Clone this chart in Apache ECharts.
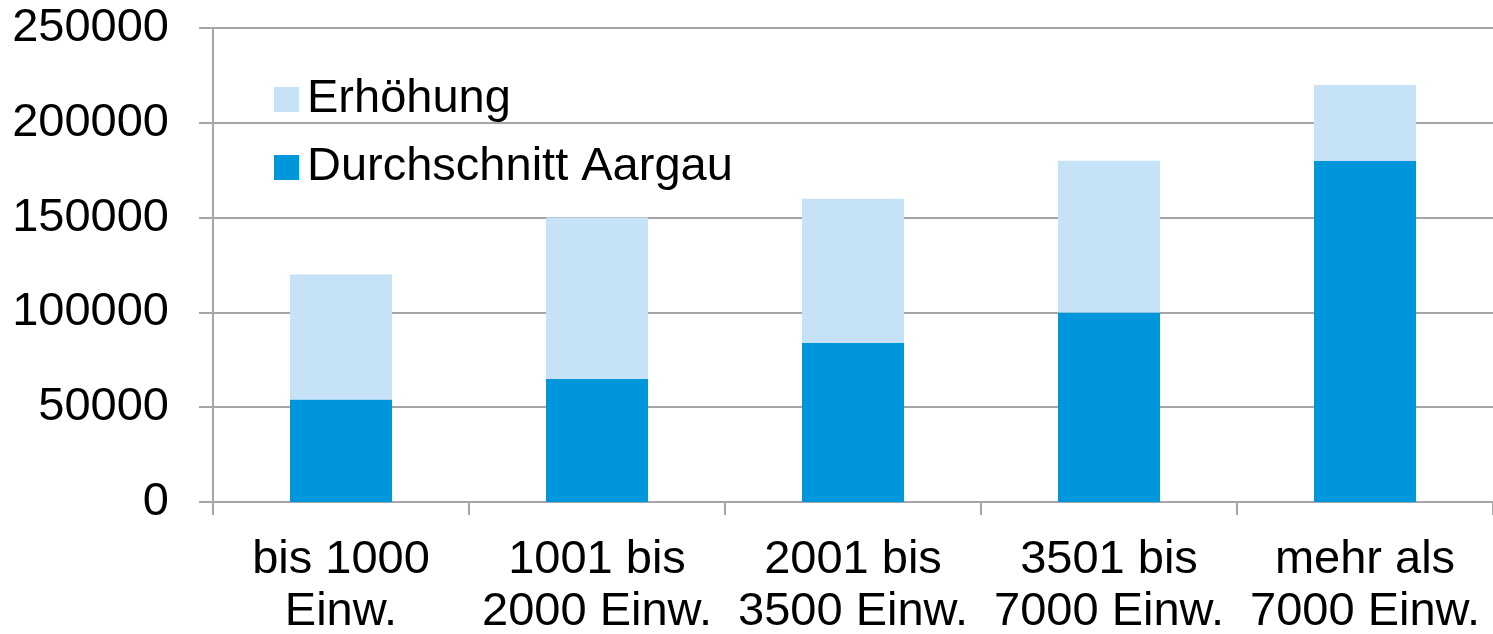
<!DOCTYPE html>
<html>
<head>
<meta charset="utf-8">
<script src="https://cdn.jsdelivr.net/npm/echarts@6/dist/echarts.min.js"></script>
<style>
	html, body { margin: 0; padding: 0; background: #fff; }
	#main { width: 1493px; height: 634px; }
</style>
</head>
<body>
<div id="main"></div>
<script>
var categories = ['bis 1000\nEinw.', '1001 bis\n2000 Einw.', '2001 bis\n3500 Einw.', '3501 bis\n7000 Einw.', 'mehr als\n7000 Einw.'];
var durchschnitt = [54000, 65000, 84000, 100000, 180000];
var erhoehung = [66000, 85000, 76000, 80000, 40000];
var yTicks = [0, 50000, 100000, 150000, 200000, 250000];

function display() {
	var myChart = echarts.init(document.getElementById('main'));
	var font = 'Liberation Sans, Arial, sans-serif';
	var gray = '#a6a6a6';

	var option = {
		animation: false,
		textStyle: { fontFamily: font },
		grid: { left: 213, right: 0, top: 28, bottom: 132, containLabel: false, outerBoundsMode: 'none' },
		legend: {
			orient: 'vertical',
			left: 269,
			top: 71,
			itemWidth: 25,
			itemHeight: 25,
			itemGap: 21,
			icon: 'rect',
			data: ['Erhöhung', 'Durchschnitt Aargau'],
			textStyle: { fontSize: 47, lineHeight: 47, color: '#000', fontFamily: font, padding: [0, 0, 0, 3] }
		},
		xAxis: {
			type: 'category',
			data: categories,
			axisLine: { lineStyle: { color: gray, width: 2 } },
			axisTick: { show: true, length: 13, lineStyle: { color: gray, width: 2 } },
			axisLabel: { fontSize: 47, lineHeight: 52, color: '#000', margin: 32, interval: 0, fontFamily: font }
		},
		yAxis: {
			type: 'value',
			min: yTicks[0],
			max: yTicks[yTicks.length - 1],
			interval: yTicks[1] - yTicks[0],
			axisLine: { show: true, lineStyle: { color: gray, width: 2 } },
			axisTick: { show: true, length: 14, lineStyle: { color: gray, width: 2 } },
			splitLine: { lineStyle: { color: gray, width: 2 } },
			axisLabel: {
				fontSize: 47, color: '#000', margin: 44, fontFamily: font,
				formatter: function(v) { return String(v); }
			}
		},
		series: [
			{
				name: 'Durchschnitt Aargau',
				type: 'bar',
				stack: 'total',
				barWidth: 102,
				itemStyle: { color: '#0096dc' },
				data: durchschnitt
			},
			{
				name: 'Erhöhung',
				type: 'bar',
				stack: 'total',
				barWidth: 102,
				itemStyle: { color: '#c6e2f6' },
				data: erhoehung
			}
		]
	};

	myChart.setOption(option);
}

display();
</script>
</body>
</html>
